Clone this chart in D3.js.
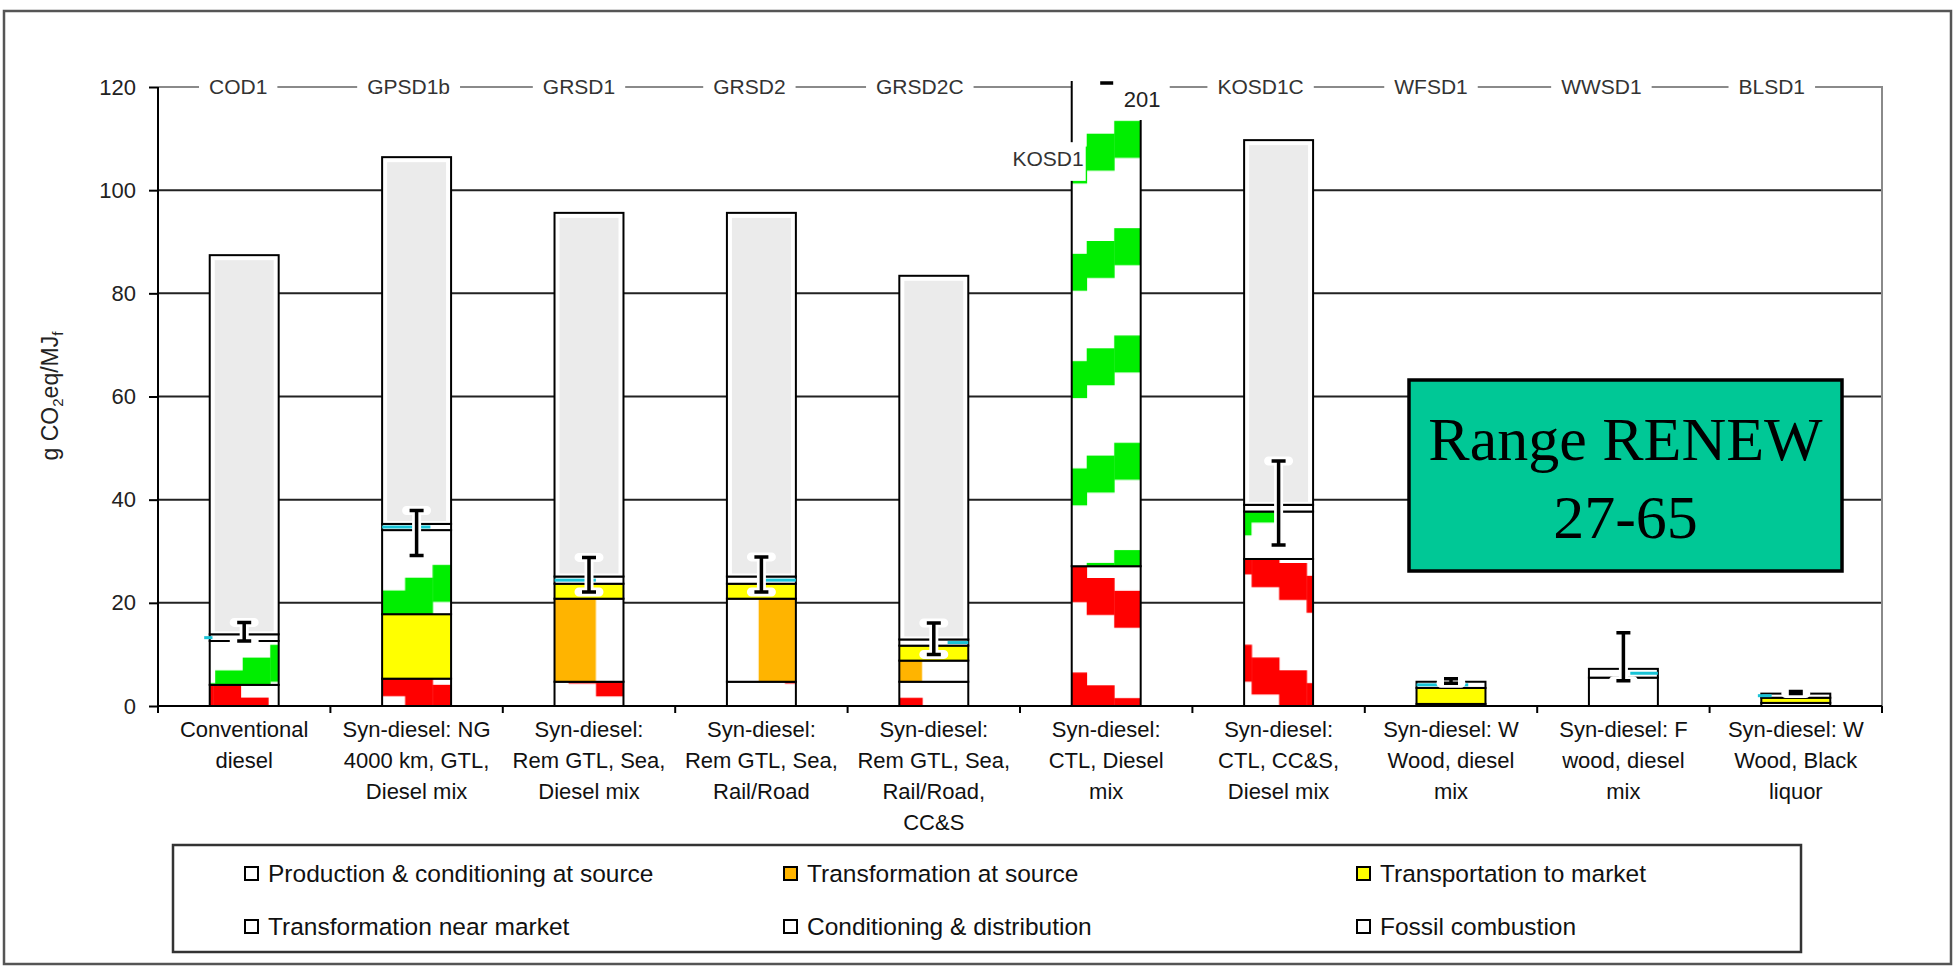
<!DOCTYPE html>
<html><head><meta charset="utf-8">
<script src="https://cdn.jsdelivr.net/npm/d3@7"></script>
<style>
body{margin:0;background:#fff;}
svg{display:block;font-family:"Liberation Sans",Arial,sans-serif;}
</style>
</head><body>
<svg id="chart" width="1956" height="966"></svg>
<script>
// Pathway codes and descriptions
const codes = ["COD1","GPSD1b","GRSD1","GRSD2","GRSD2C","KOSD1","KOSD1C","WFSD1","WWSD1","BLSD1"];
const pathwayLabels = [
  ["Conventional","diesel"],
  ["Syn-diesel: NG","4000 km, GTL,","Diesel mix"],
  ["Syn-diesel:","Rem GTL, Sea,","Diesel mix"],
  ["Syn-diesel:","Rem GTL, Sea,","Rail/Road"],
  ["Syn-diesel:","Rem GTL, Sea,","Rail/Road,","CC&S"],
  ["Syn-diesel:","CTL, Diesel","mix"],
  ["Syn-diesel:","CTL, CC&S,","Diesel mix"],
  ["Syn-diesel: W","Wood, diesel","mix"],
  ["Syn-diesel: F","wood, diesel","mix"],
  ["Syn-diesel: W","Wood, Black","liquor"]
];
const stages = ["Production & conditioning at source","Transformation at source","Transportation to market",
                "Transformation near market","Conditioning & distribution","Fossil combustion"];

// g CO2eq / MJ final fuel, per stage
const productionAtSource       = [4.1, 5.3, 4.7, 4.7, 4.7, 27.1, 28.5, 0.4, 5.5, 0.6];
const transformationAtSource   = [0,   0,   16.1,16.1,4.1, 0,    0,    0,   0,   0];
const transportToMarket        = [0,   12.5,2.9, 2.9, 2.9, 0,    0,    3.1, 0,   1.0];
const transformationNearMarket = [8.5, 16.3,0,   0,   0,   102.9,9.2,  0,   0,   0];
const conditioningDistribution = [1.3, 1.2, 1.4, 1.4, 1.2, 0.5,  1.3,  1.2, 1.7, 0.8];
const fossilCombustion         = [73.5,71.1,70.5,70.5,70.5,70.5, 70.7, 0,   0,   0];
const wttLow  = [12.6, 29.2, 22.1, 22.1, 10.0, null, 31.2, 4.4, 4.9, 2.4];
const wttHigh = [16.2, 37.9, 28.8, 28.9, 16.1, null, 47.5, 5.3, 14.2, 2.8];
const offScaleTotal = {code:"KOSD1", label:"201"};
const yTicks = [0,20,40,60,80,100,120];
const renewRange = ["Range RENEW","27-65"];

// ---- styling of the hatched stages (rendered as stepped diagonal bands) ----
const STEP_W = 27.5, STEP_DY = 12.8, BLOCK_H = 37, PERIOD = 107.3;
const redHatch = [[31,-8.4],[23,-34],[14,-59.4],[58,-59.4],[23,4.6],[15,-20.7],[35,-35.7],null,null,null];
const greenHatch = [[33,-48.4],[23,-128.3],null,null,null,[15,-250.4],[7,-220.4],null,null,null];
const orangeSpan = [null,null,[0,0.6],[0.46,1],[0,0.33],null,null,null,null,null];
const cyanSpan = [[-0.08,0.04],[0,0.7],[0,0.6],[0.5,1],[0.7,1],null,null,[0,0.75],[0.6,1],[-0.05,0.15]];
const legendFill = ["#fff","#ffb400","#ffff00","#fff","#fff","#fff"];

const svg = d3.select("#chart");
const W = 1956, H = 966;
const plotL = 158, plotR = 1882;
const y = d3.scaleLinear().domain([0,120]).range([706,87]);
const x = d3.scaleBand().domain(codes).range([plotL, plotR]);
const xTop = d3.scaleBand().domain(codes).range([153, 1857]);
const barW = x.bandwidth()*0.4;
const barLeft = c => x(c) + (x.bandwidth()-barW)/2;
const mid = c => x(c) + x.bandwidth()/2;

// outer frame
svg.append("rect").attr("x",4).attr("y",11).attr("width",1947).attr("height",953)
  .attr("fill","#fff").attr("stroke","#555").attr("stroke-width",2.5);

const defs = svg.append("defs");
defs.append("clipPath").attr("id","plotClip").append("rect")
  .attr("x",plotL-20).attr("y",y(120)-6).attr("width",plotR-plotL+40).attr("height",H);

function stairPattern(id, color, left, spec, dir){
  const [xPhase, yOff] = spec;
  const p = defs.append("pattern").attr("id",id).attr("patternUnits","userSpaceOnUse")
    .attr("x", left + xPhase - 3*STEP_W).attr("y", y(0)+yOff)
    .attr("width", 7*STEP_W).attr("height", PERIOD);
  p.append("rect").attr("width",7*STEP_W).attr("height",PERIOD).attr("fill","#fff");
  d3.range(7).forEach(j=>{
    let t = ((j-3)*dir*STEP_DY) % PERIOD; if (t<0) t += PERIOD;
    [t, t-PERIOD].forEach(tt=>p.append("rect").attr("x",j*STEP_W).attr("y",tt)
      .attr("width",STEP_W+0.4).attr("height",BLOCK_H).attr("fill",color));
  });
}
codes.forEach((c,i)=>{
  const L = barLeft(c);
  if (redHatch[i]) stairPattern("red-"+i,"#ff0000",L,redHatch[i],1);
  if (greenHatch[i]) stairPattern("green-"+i,"#00ee00",L,greenHatch[i],-1);
  if (orangeSpan[i]){
    const p = defs.append("pattern").attr("id","orange-"+i).attr("patternUnits","userSpaceOnUse")
      .attr("x",L).attr("y",0).attr("width",barW).attr("height",H);
    p.append("rect").attr("width",barW).attr("height",H).attr("fill","#fff");
    p.append("rect").attr("x",orangeSpan[i][0]*barW).attr("width",(orangeSpan[i][1]-orangeSpan[i][0])*barW)
      .attr("height",H).attr("fill","#ffb400");
  }
});

// gridlines
svg.append("g").selectAll("line").data(yTicks.filter(v=>v>0 && v<120)).join("line")
  .attr("x1",plotL).attr("x2",plotR).attr("y1",d=>y(d)).attr("y2",d=>y(d))
  .attr("stroke","#222").attr("stroke-width",2);
// top and right frame of the plot
svg.append("path").attr("d",`M${plotL},${y(120)}H${plotR}V${y(0)}`)
  .attr("fill","none").attr("stroke","#8a8a8a").attr("stroke-width",2);

// stacked bars
const table = codes.map((c,i)=>({code:c,
  [stages[0]]:productionAtSource[i],[stages[1]]:transformationAtSource[i],[stages[2]]:transportToMarket[i],
  [stages[3]]:transformationNearMarket[i],[stages[4]]:conditioningDistribution[i],[stages[5]]:fossilCombustion[i]}));
const series = d3.stack().keys(stages)(table);
const segs = [];
series.forEach((s,k)=>s.forEach((d,i)=>{ if (d[1]-d[0]>0) segs.push({k,i,v0:d[0],v1:d[1]}); }));

const gBars = svg.append("g").attr("clip-path","url(#plotClip)");
segs.forEach(s=>{
  const c = codes[s.i], L = barLeft(c);
  const top = y(s.v1), bot = y(s.v0);
  let fill = "#fff";
  if (s.k===0 && redHatch[s.i]) fill = `url(#red-${s.i})`;
  if (s.k===1) fill = orangeSpan[s.i] ? `url(#orange-${s.i})` : "#ffb400";
  if (s.k===2) fill = "#ffff00";
  if (s.k===3 && greenHatch[s.i]) fill = `url(#green-${s.i})`;
  gBars.append("rect").attr("x",L).attr("y",top).attr("width",barW).attr("height",bot-top)
    .attr("fill",fill).attr("stroke","#000").attr("stroke-width",2);
  if (s.k===5){
    gBars.append("rect").attr("x",L+5).attr("y",top+5).attr("width",barW-10).attr("height",Math.max(0,bot-top-8))
      .attr("fill","#ebebeb");
  }
  if (s.k===4 && cyanSpan[s.i]){
    const [a,b] = cyanSpan[s.i];
    gBars.append("rect").attr("x",L+a*barW).attr("y",(top+bot)/2-1.5).attr("width",(b-a)*barW).attr("height",3)
      .attr("fill","#19c3d6");
  }
});

// WTT range bars
const gErr = svg.append("g");
codes.forEach((c,i)=>{
  if (wttLow[i]==null) return;
  const cx = mid(c), y1 = y(wttHigh[i]), y2 = y(wttLow[i]);
  [["#fff",9,20],["#000",3.5,14]].forEach(([col,w,cap])=>{
    const pathD = `M${cx},${y1}V${y2}M${cx-cap/2},${y1}H${cx+cap/2}M${cx-cap/2},${y2}H${cx+cap/2}`;
    gErr.append("path").attr("d",pathD).attr("fill","none").attr("stroke",col).attr("stroke-width",w)
      .attr("stroke-linecap",col==="#fff"?"round":"butt");
  });
});

// y axis
const yAxis = svg.append("g").attr("transform",`translate(${plotL},0)`)
  .call(d3.axisLeft(y).tickValues(yTicks).tickSize(9).tickPadding(13).tickFormat(d3.format("d")));
yAxis.select(".domain").attr("stroke","#000").attr("stroke-width",2).attr("d",`M0,${y(120)}V${y(0)}`);
yAxis.selectAll(".tick line").attr("stroke","#000").attr("stroke-width",2);
yAxis.selectAll(".tick text").attr("font-size",22).attr("fill","#222").attr("font-family","Liberation Sans, Arial, sans-serif");

// x axis with ticks at category boundaries
const bounds = codes.map(c=>x(c)).concat([plotR]);
svg.append("line").attr("x1",plotL).attr("x2",plotR).attr("y1",y(0)).attr("y2",y(0))
  .attr("stroke","#000").attr("stroke-width",2);
svg.append("g").selectAll("line").data(bounds).join("line")
  .attr("x1",d=>d).attr("x2",d=>d).attr("y1",y(0)).attr("y2",y(0)+7)
  .attr("stroke","#000").attr("stroke-width",2);

// pathway codes along the top
const gTop = svg.append("g");
codes.forEach((c,i)=>{
  if (c===offScaleTotal.code) return;
  const g = gTop.append("g");
  const bg = g.append("rect").attr("fill","#fff");
  const t = g.append("text").attr("x",xTop(c)+xTop.bandwidth()/2).attr("y",y(120)+7)
    .attr("text-anchor","middle").attr("font-size",21).attr("fill","#333").text(c);
  const bb = t.node().getBBox();
  bg.attr("x",bb.x-10).attr("y",bb.y).attr("width",bb.width+20).attr("height",bb.height);
});

// off-scale pathway annotation
{
  const c = offScaleTotal.code, L = barLeft(c);
  svg.append("rect").attr("x",L+2).attr("y",y(120)-16).attr("width",96).attr("height",y(113.6)-(y(120)-16)).attr("fill","#fff");
  svg.append("line").attr("x1",mid(c)-6).attr("x2",mid(c)+7).attr("y1",y(120)-4).attr("y2",y(120)-4)
    .attr("stroke","#000").attr("stroke-width",3.5);
  svg.append("text").attr("x",L+52).attr("y",y(117.7)+8).attr("font-size",22).attr("fill","#222").text(offScaleTotal.label);
  const kb = svg.append("rect").attr("fill","#fff");
  const kt = svg.append("text").attr("x",L+12).attr("y",y(106)+7).attr("text-anchor","end")
    .attr("font-size",21).attr("fill","#333").text(c);
  const bb = kt.node().getBBox();
  kb.attr("x",bb.x-4).attr("y",y(109.3)).attr("width",bb.width+6).attr("height",y(101.8)-y(109.3));
}

// y axis title
const yt = svg.append("text").attr("transform",`translate(58,396) rotate(-90)`).attr("text-anchor","middle")
  .attr("font-size",23).attr("fill","#222");
yt.append("tspan").text("g CO");
yt.append("tspan").attr("font-size",15).attr("dy",5).text("2");
yt.append("tspan").attr("dy",-5).text("eq/MJ");
yt.append("tspan").attr("font-size",15).attr("dy",5).text("f");

// category labels
codes.forEach((c,i)=>{
  const t = svg.append("text").attr("x",mid(c)).attr("y",737).attr("text-anchor","middle")
    .attr("font-size",22).attr("fill","#111");
  pathwayLabels[i].forEach((ln,j)=>t.append("tspan").attr("x",mid(c)).attr("dy",j?31:0).text(ln));
});

// legend
svg.append("rect").attr("x",173).attr("y",845).attr("width",1628).attr("height",107)
  .attr("fill","#fff").attr("stroke","#333").attr("stroke-width",2.5);
const legX = [245, 784, 1357], legY = [874, 927];
stages.forEach((s,k)=>{
  const lx = legX[k%3], ly = legY[Math.floor(k/3)];
  svg.append("rect").attr("x",lx).attr("y",ly-7).attr("width",13).attr("height",13)
    .attr("fill",legendFill[k]).attr("stroke","#000").attr("stroke-width",2);
  svg.append("text").attr("x",lx+23).attr("y",ly+8).attr("font-size",24.5).attr("fill","#111").text(s);
});

// renewable range annotation
svg.append("rect").attr("x",1409).attr("y",380).attr("width",433).attr("height",191)
  .attr("fill","#00c896").attr("stroke","#000").attr("stroke-width",3.5);
renewRange.forEach((ln,j)=>svg.append("text").attr("x",1625.5).attr("y",460+j*78).attr("text-anchor","middle")
  .attr("font-family","Liberation Serif, Times New Roman, serif").attr("font-size",62).attr("fill","#000").text(ln));
</script>
</body></html>
